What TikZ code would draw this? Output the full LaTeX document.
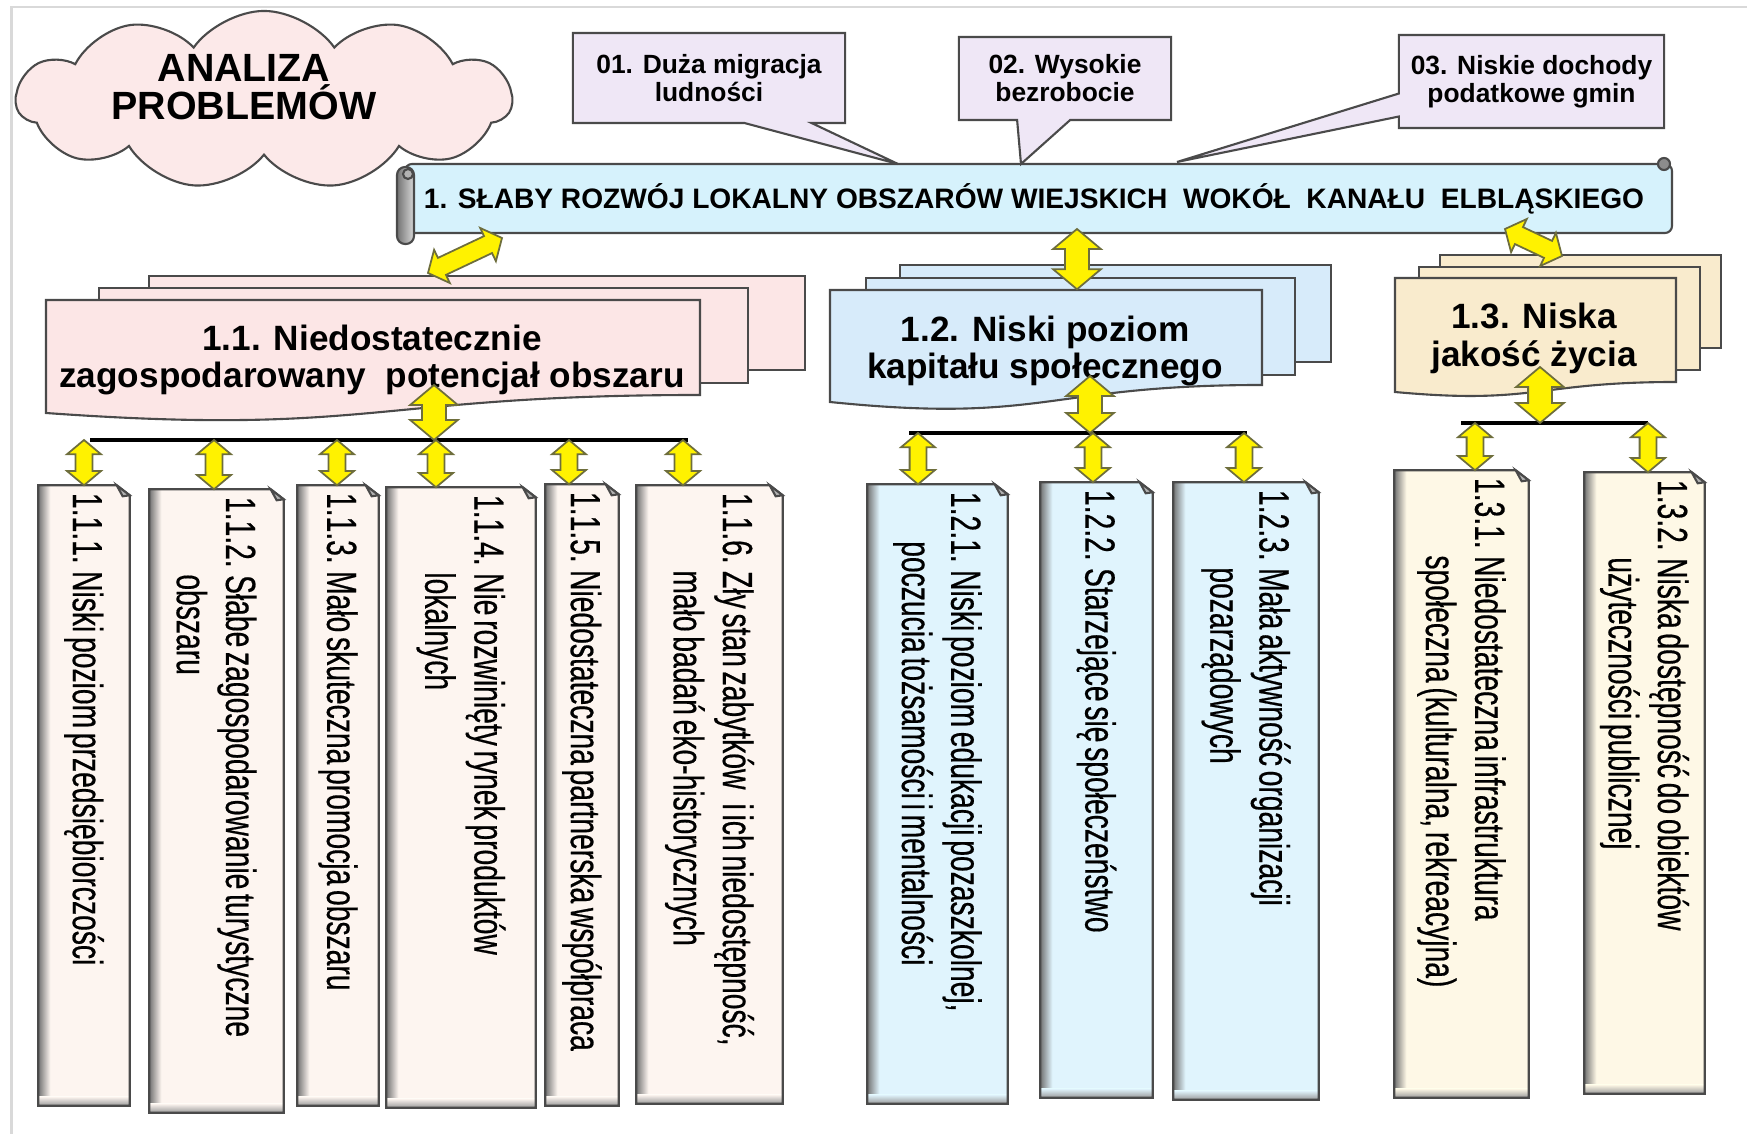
\documentclass[tikz,border=0pt]{standalone}
\usepackage{fontspec}
\setmainfont{Liberation Sans}
\newfontfamily\narrowfont[FakeStretch=0.67, WordSpace=0.6, FakeBold=0.4]{Liberation Sans}
\usetikzlibrary{positioning,calc,fit,shapes.symbols,shapes.callouts,shapes.arrows}

\definecolor{cloudpink}{HTML}{FCE9E9}
\definecolor{calloutlilac}{HTML}{EFE7F6}
\definecolor{bannerblue}{HTML}{D6F2FC}
\definecolor{pinkdoc}{HTML}{FCE6E6}
\definecolor{pinkleaf}{HTML}{FDF5F0}
\definecolor{bluedoc}{HTML}{D7EBFA}
\definecolor{blueleaf}{HTML}{E0F4FD}
\definecolor{beigedoc}{HTML}{F9EBCD}
\definecolor{beigeleaf}{HTML}{FEF8E6}
\definecolor{edgegrey}{HTML}{4A4A4A}
\definecolor{arrowedge}{HTML}{6E6E3C}

% yellow two-headed arrow: [style]{from}{to}{name}
\newcommand{\yarr}[4][]{%
  \path let \p1=($#3-#2$), \n1={atan2(\y1,\x1)}, \n2={veclen(\x1,\y1)} in
    node[darrow,#1,minimum height=\n2,rotate=\n1] (#4) at ($#2!.5!#3$) {};}
% box with folded corner: {name}{x1}{y1}{x2}{y2}{colour}
\newcommand{\leafbox}[6]{%
  \node[fit={(#2,#3) (#4,#5)}, inner sep=0pt] (#1) {};
  \fill[#6] (#1.north west) -- ([xshift=-1.3mm]#1.north east) -- ([yshift=-1mm]#1.north east)
    -- (#1.south east) -- (#1.south west) -- cycle;
  \shade[left color=black!55, right color=#6] (#1.south west) rectangle ([xshift=1.2mm]#1.north west);
  \shade[bottom color=black!40, top color=#6] (#1.south west) rectangle ([yshift=0.9mm]#1.south east);
  \draw[boxedge] (#1.north west) -- ([xshift=-1.3mm]#1.north east) -- ([yshift=-1mm]#1.north east)
    -- (#1.south east) -- (#1.south west) -- cycle;
  \filldraw[boxedge, fill=black!30] ([xshift=-1.3mm]#1.north east) -- ([yshift=-1mm]#1.north east)
    -- ([xshift=-0.7mm,yshift=-1.1mm]#1.north east) -- cycle;}
% front sheet with wavy bottom: {name}{x1}{y1}{x2}{y right}{y left}{colour}
\newcommand{\frontdoc}[7]{%
  \node[fit={(#2,#3) (#4,#5)}, inner sep=0pt] (#1) {};
  \filldraw[boxedge, fill=#7] (#2,#3) -- (#4,#3) -- (#4,#5)
    .. controls ({(#2+#4)/2},#5) and ({(#2+#4)/2},{#5+2.3*(#6-#5)}) .. (#2,#6) -- cycle;}
\newcommand{\hang}{\hspace*{22pt}}

\begin{document}
\begin{tikzpicture}[x=0.01cm, y=-0.01cm,
    boxedge/.style={draw=edgegrey, line width=0.6pt},
    darrow/.style={double arrow, draw=arrowedge, fill=yellow, line width=0.5pt,
      inner xsep=0pt, minimum width=0pt, double arrow head indent=0pt, double arrow tip angle=100},
    bigarr/.style={inner ysep=0.11cm, double arrow head extend=0.12cm},
    smallarr/.style={inner ysep=0.075cm, double arrow head extend=0.085cm},
    diagarr/.style={inner ysep=0.085cm, double arrow head extend=0.09cm},
    callout/.style={rectangle callout, boxedge, fill=calloutlilac, inner sep=0pt,
      align=center, font=\bfseries\fontsize{7.5}{8}\selectfont},
    title/.style={align=center, inner sep=0pt, font=\bfseries\fontsize{10}{10.8}\selectfont},
    leaftext/.style={rotate=-90, anchor=west, align=left, inner sep=0pt,
      font=\narrowfont\fontsize{12}{14}\selectfont},
    busline/.style={line width=1pt}]
  \useasboundingbox (0,0) rectangle (1747,1134);
  % Page frame
  \draw[black!15, line width=0.6pt] (11.5,1134) -- (11.5,7) -- (1747,7);

  % Cloud
  \node[cloud, cloud puffs=11, cloud puff arc=110, aspect=2.8, minimum width=4.95cm,
    minimum height=1.78cm, boxedge, fill=cloudpink] (cloud) at (264,100) {};
  \node[font=\bfseries\fontsize{11.2}{9.8}\selectfont, align=center, inner sep=0pt]
    (cloudt) at (244,87) {ANALIZA\\PROBLEMÓW};

  % Banner
  \node[fit={(405,164) (1672,233)}, inner sep=0pt] (banner) {};
  \filldraw[boxedge, fill=bannerblue, rounded corners=2pt] (405,164) rectangle (1672,233);
  \draw[boxedge, left color=black!55, right color=black!15, rounded corners=0.08cm]
    (397,167) rectangle (414,244);
  \draw[boxedge, fill=black!30] (408,174) circle (0.05cm);
  \draw[boxedge, fill=black!45] (1664,164) circle (0.06cm);
  \node[font=\bfseries\fontsize{8}{9}\selectfont, inner sep=0pt] (bannert) at (1034,199)
    {1. SŁABY ROZWÓJ LOKALNY OBSZARÓW WIEJSKICH\ \ WOKÓŁ\ \ KANAŁU\ \ ELBLĄSKIEGO};

  % Callouts
  \coordinate (tip01) at (898,164);
  \coordinate (tip02) at (1021,164);
  \coordinate (tip03) at (1177,162);
  \node[callout, minimum width=2.72cm, minimum height=0.9cm, callout absolute pointer={(tip01)},
    callout pointer width=0.67cm] (c01) at (709,78) {01. Duża migracja\\ludności};
  \node[callout, minimum width=2.12cm, minimum height=0.83cm, callout absolute pointer={(tip02)},
    callout pointer width=0.53cm] (c02) at (1065,78.5) {02. Wysokie\\bezrobocie};
  \node[callout, minimum width=2.65cm, minimum height=0.93cm, callout absolute pointer={(tip03)},
    callout pointer width=0.23cm] (c03) at (1531.5,81.5) {03. Niskie dochody\\podatkowe gmin};

  % Group 1.1
  \filldraw[boxedge, fill=pinkdoc] (149,276) rectangle (805,370);
  \filldraw[boxedge, fill=pinkdoc] (99,288) rectangle (748,383);
  \frontdoc{g11}{46}{300}{700}{395}{413}{pinkdoc}
  \node[title] (g11t) at (372,360) {1.1. Niedostatecznie\\zagospodarowany\ \ potencjał obszaru};
  % Group 1.2
  \filldraw[boxedge, fill=bluedoc] (900,265) rectangle (1331,362);
  \filldraw[boxedge, fill=bluedoc] (866,278) rectangle (1295,375);
  \frontdoc{g12}{830}{290}{1262}{385}{402}{bluedoc}
  \node[title] (g12t) at (1045,351) {1.2. Niski poziom\\kapitału społecznego};
  % Group 1.3
  \filldraw[boxedge, fill=beigedoc] (1440,255) rectangle (1721,348);
  \filldraw[boxedge, fill=beigedoc] (1419,267) rectangle (1700,370);
  \frontdoc{g13}{1395}{278}{1676}{382}{392}{beigedoc}
  \node[title] (g13t) at (1534,338) {1.3. Niska\\jakość życia};

  % Arrows from the banner
  \coordinate (u11) at (502,238);
  \coordinate (d11) at (428,273);
  \yarr[diagarr]{(u11)}{(d11)}{a11}
  \coordinate (u12) at (1077,229);
  \coordinate (d12) at (u12 |- g12.north);
  \yarr[bigarr]{(u12)}{(d12)}{a12}
  \coordinate (u13) at (1505,229);
  \coordinate (d13) at (1562,256);
  \yarr[diagarr]{(u13)}{(d13)}{a13}

  % Buses
  \coordinate (h11) at (434,440);
  \coordinate (h12) at (1090,433);
  \coordinate (h13) at (1540,423);
  \coordinate (k11) at (434,385);
  \coordinate (k12) at (1090,376);
  \coordinate (k13) at (1540,367);
  \draw[busline] (90,440) -- (688,440);
  \draw[busline] (909,433) -- (1247,433);
  \draw[busline] (1461,423) -- (1648,423);
  \foreach \g in {11,12,13}
    {\yarr[bigarr]{(k\g)}{(h\g)}{m\g}}

  % Leaf boxes
  \foreach \b/\xa/\ya/\xb/\yb in {111/39/486/129/1105, 112/150/490/283/1112, 113/298/486/378/1105,
      114/387/488/535/1107, 115/546/485/618/1105, 116/637/486/782/1103}
    {\leafbox{b\b}{\xa}{\ya}{\xb}{\yb}{pinkleaf}}
  \foreach \b/\xa/\ya/\xb/\yb in {121/868/485/1007/1103, 122/1041/483/1152/1097, 123/1174/483/1318/1099}
    {\leafbox{b\b}{\xa}{\ya}{\xb}{\yb}{blueleaf}}
  \foreach \b/\xa/\ya/\xb/\yb in {131/1395/471/1528/1097, 132/1585/473/1704/1093}
    {\leafbox{b\b}{\xa}{\ya}{\xb}{\yb}{beigeleaf}}

  % Arrows to the leaf boxes
  \foreach \b/\px/\py in {111/84/440, 112/214/440, 113/337/440, 114/436/440, 115/569/440, 116/683/440,
      121/918/433, 122/1093/433, 123/1244/433, 131/1475/423, 132/1648/423}
    {\coordinate (s\b) at (\px,\py);
     \coordinate (e\b) at (s\b |- b\b.north);
     \yarr[smallarr]{(s\b)}{(e\b)}{a\b}}

  % Leaf texts
  \node[leaftext] (t111) at ($(b111.north)+(0,7)$) {1.1.1. Niski poziom przedsiębiorczości};
  \node[leaftext] (t112) at ($(b112.north)+(0,7)$) {1.1.2. Słabe zagospodarowanie turystyczne\\\hang obszaru};
  \node[leaftext] (t113) at ($(b113.north)+(0,7)$) {1.1.3. Mało skuteczna promocja obszaru};
  \node[leaftext] (t114) at ($(b114.north)+(0,7)$) {1.1.4. Nie rozwinięty rynek produktów\\\hang lokalnych};
  \node[leaftext] (t115) at ($(b115.north)+(0,7)$) {1.1.5. Niedostateczna partnerska współpraca};
  \node[leaftext] (t116) at ($(b116.north)+(0,7)$) {1.1.6. Zły stan zabytków\ \ \ i ich niedostępność,\\\hang mało badań eko-historycznych};
  \node[leaftext] (t121) at ($(b121.north)+(0,7)$) {1.2.1. Niski poziom edukacji pozaszkolnej,\\\hspace*{14pt}poczucia tożsamości i mentalności};
  \node[leaftext] (t122) at ($(b122.north)+(0,7)$) {1.2.2. Starzejące się społeczeństwo};
  \node[leaftext] (t123) at ($(b123.north)+(0,7)$) {1.2.3. Mała aktywność organizacji\\\hang pozarządowych};
  \node[leaftext] (t131) at ($(b131.north)+(0,7)$) {1.3.1. Niedostateczna infrastruktura\\\hang społeczna (kulturalna, rekreacyjna)};
  \node[leaftext] (t132) at ($(b132.north)+(0,7)$) {1.3.2. Niska dostępność do obiektów\\\hang użyteczności publicznej};
\end{tikzpicture}
\end{document}
